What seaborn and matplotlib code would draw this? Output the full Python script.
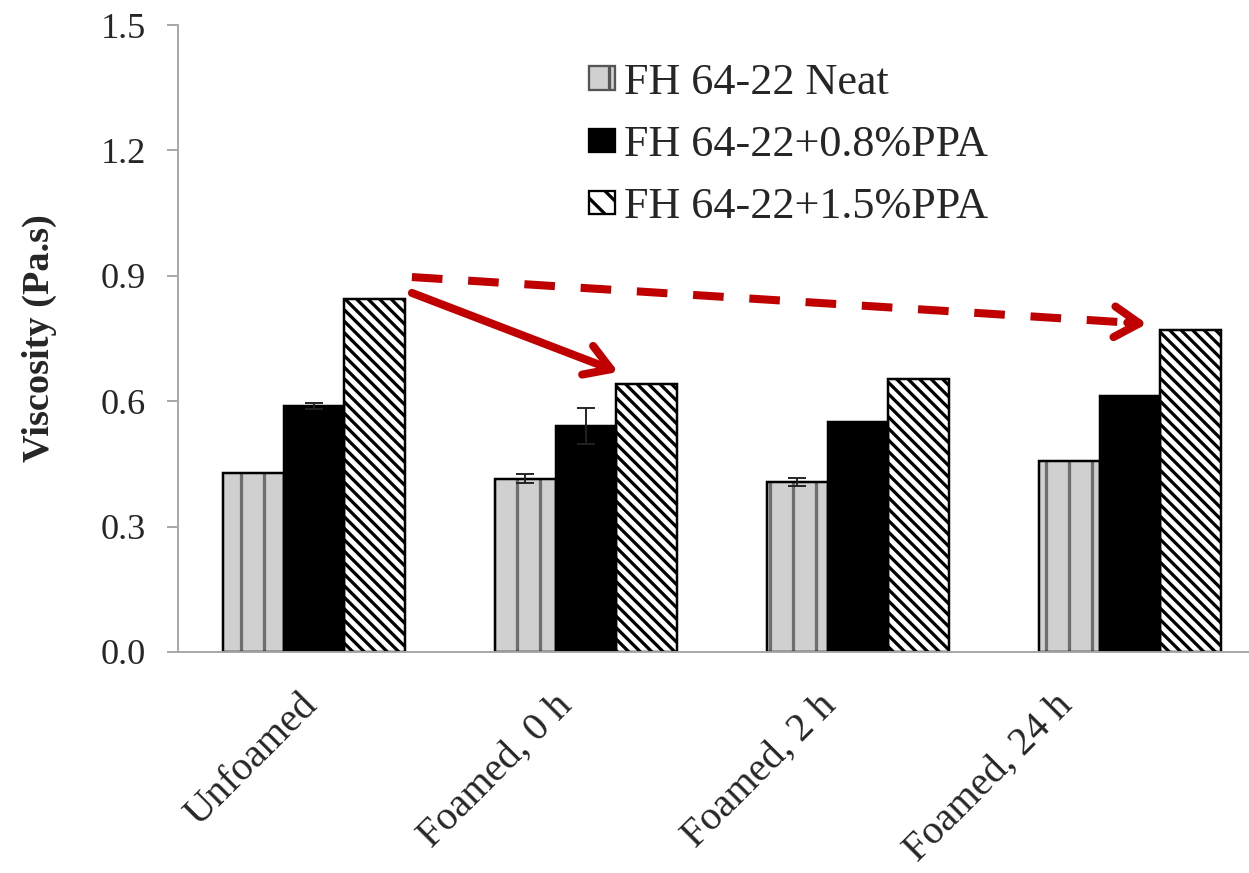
import numpy as np
import pandas as pd
import matplotlib
matplotlib.use('Agg')
import matplotlib.pyplot as plt
import matplotlib.patches as mpatches
import matplotlib.transforms as mtransforms
import seaborn as sns

#chart data
conditions = ['Unfoamed', 'Foamed, 0 h', 'Foamed, 2 h', 'Foamed, 24 h']
series = ['FH 64-22 Neat', 'FH 64-22+0.8%PPA', 'FH 64-22+1.5%PPA']
neat = [0.428, 0.415, 0.407, 0.457]
ppa08 = [0.589, 0.541, 0.550, 0.612]
ppa15 = [0.845, 0.641, 0.653, 0.770]
err_neat = [0.0, 0.010, 0.009, 0.0]
err_08 = [0.007, 0.043, 0.0, 0.0]
err_15 = [0.0, 0.0, 0.0, 0.0]
yticks = [0.0, 0.3, 0.6, 0.9, 1.2, 1.5]

#long table for seaborn
df = pd.DataFrame({
    'cond': conditions * 3,
    'visc': neat + ppa08 + ppa15,
    'mix': [s for s in series for _ in conditions],
})

sns.set_theme(style='white')
plt.rcParams['font.family'] = ['Liberation Serif', 'DejaVu Serif']
plt.rcParams['hatch.linewidth'] = 1.7

DPI = 138
fig = plt.figure(figsize=(1249 / DPI, 873 / DPI), dpi=DPI)
ax = fig.add_axes([178 / 1249, 1 - 652 / 873, 1 - 178 / 1249, (652 - 25) / 873])

#filled bars with hatching
palette = {series[0]: '#d0d0d0', series[1]: 'black', series[2]: 'white'}
sns.barplot(data=df, x='cond', y='visc', hue='mix', hue_order=series, order=conditions,
            palette=palette, width=0.67, errorbar=None, linewidth=0, legend=False, ax=ax)
hatches = ['|', None, '\\\\\\\\']
hatch_cols = ['#6e6e6e', 'black', 'black']
for cont, h, hc in zip(ax.containers[:3], hatches, hatch_cols):
    for bar in cont:
        if h:
            bar.set_hatch(h)
        bar.set_edgecolor(hc)
        bar.set_linewidth(0)

#black outlines on top
sns.barplot(data=df, x='cond', y='visc', hue='mix', hue_order=series, order=conditions,
            palette={s: 'black' for s in series}, fill=False, width=0.67, errorbar=None,
            linewidth=1.3, legend=False, ax=ax)

#error bars
for cont, errs in zip(ax.containers[:3], [err_neat, err_08, err_15]):
    for bar, e in zip(cont, errs):
        if e > 0:
            ax.errorbar(bar.get_x() + bar.get_width() / 2, bar.get_height(), yerr=e,
                        color='#222222', elinewidth=1.0, capsize=4.5, capthick=1.0)

#axes styling
ax.set_xlim(-0.5, 3.4375)
ax.set_ylim(0, 1.5)
ax.set_yticks(yticks)
ax.set_yticklabels([f'{v:.1f}' for v in yticks])
for s in ['top', 'right']:
    ax.spines[s].set_visible(False)
for s in ['left', 'bottom']:
    ax.spines[s].set_color('#a6a6a6')
    ax.spines[s].set_linewidth(1.0)
ax.tick_params(axis='y', length=6, width=1, color='#a6a6a6', labelsize=19, pad=10.5, left=True)
ax.tick_params(axis='x', length=0, labelsize=21, pad=25)
ax.set_xlabel('')
ax.set_ylabel('Viscosity (Pa.s)', fontsize=20, fontweight='bold')
ax.yaxis.set_label_coords(-0.113, 0.5)
#per-label horizontal nudges (px) to follow the original label placement
nudges = [-2, -20, -28, -63]
for lab, dx in zip(ax.get_xticklabels(), nudges):
    lab.set_rotation(45)
    lab.set_ha('right')
    lab.set_va('center')
    lab.set_rotation_mode('anchor')
    shift = mtransforms.ScaledTranslation(dx / DPI, 0, fig.dpi_scale_trans)
    lab.set_transform(lab.get_transform() + shift)

#legend
handles = [
    mpatches.Patch(facecolor='#d0d0d0', edgecolor='#555555', hatch='|', linewidth=1.2),
    mpatches.Patch(facecolor='black', edgecolor='black', linewidth=1.2),
    mpatches.Patch(facecolor='white', edgecolor='black', hatch='\\\\', linewidth=1.2),
]
ax.legend(handles, series, loc='upper left', bbox_to_anchor=(567 / 1249, 1 - 41 / 873),
          bbox_transform=fig.transFigure, frameon=False, fontsize=23, borderpad=0,
          handlelength=0.6, handleheight=0.45, handletextpad=0.2, labelspacing=0.5)

#red trend arrows
red = '#c00000'
ax.annotate('', xy=(1.118, 0.670), xytext=(0.360, 0.859),
            arrowprops=dict(arrowstyle='->, head_length=13, head_width=8', mutation_scale=1,
                            color=red, lw=4.2, shrinkA=0, shrinkB=0))
ax.plot([0.360, 3.02], [0.897, 0.787], color=red, lw=4.2, ls=(0, (3.8, 3.2)),
        solid_capstyle='butt', dash_capstyle='butt')
ax.annotate('', xy=(3.0625, 0.785), xytext=(2.99, 0.788),
            arrowprops=dict(arrowstyle='->, head_length=13, head_width=8', mutation_scale=1,
                            color=red, lw=4.2, shrinkA=0, shrinkB=0))

fig.savefig('out.png', dpi=DPI)
